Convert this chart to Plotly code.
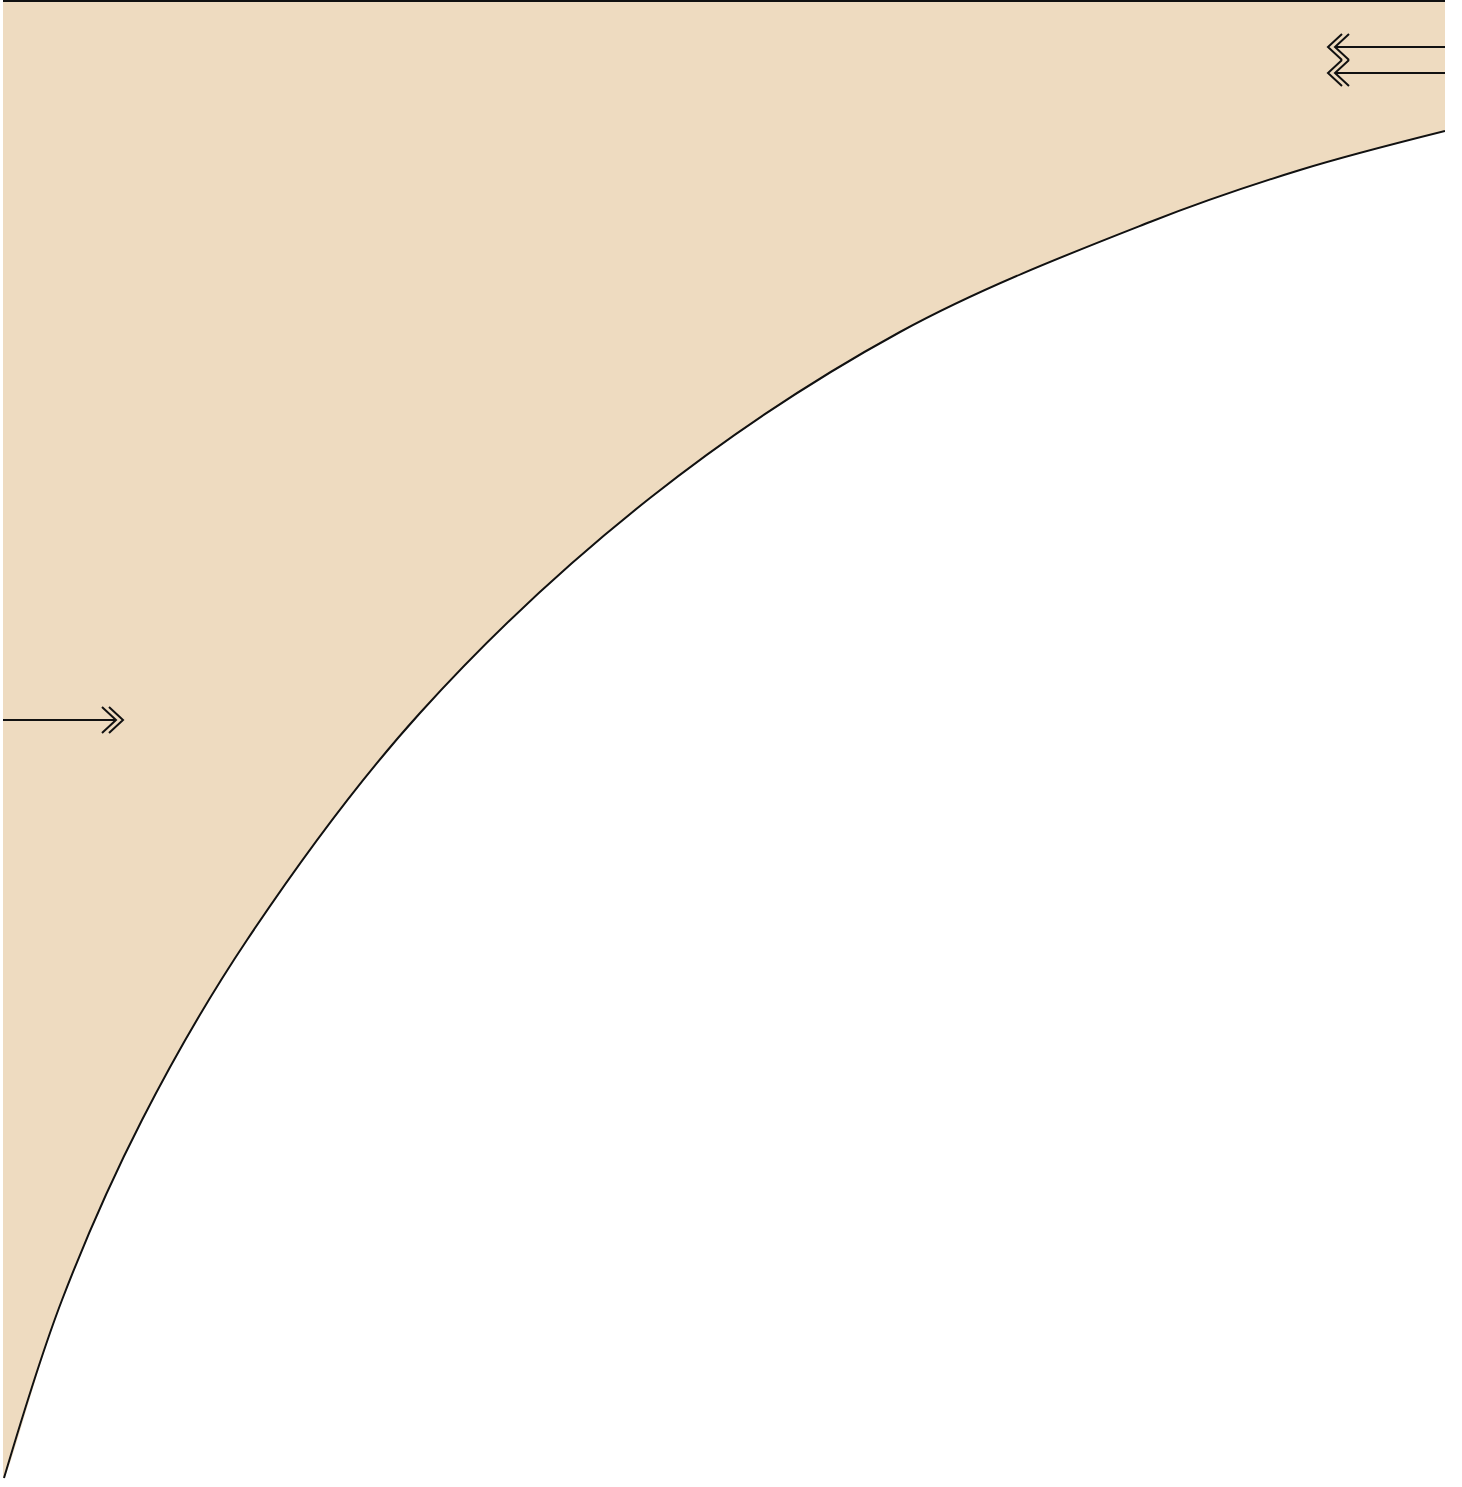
import plotly.graph_objects as go

# Boundary curve (data units)
curve_x = [1, 59, 139, 244, 417, 647, 897, 1147, 1297, 1442]
curve_y = [2, 180, 360, 540, 767, 982, 1148, 1258, 1310, 1349]

# Frame extents
x_min, x_max = 0, 1442
y_top = 1480
top_line_y = 1479

# Arrows: (y, x_start, x_end)
arrow_y = [760, 1433, 1407]
arrow_x_start = [0, 1442, 1442]
arrow_x_end = [120, 1325, 1325]

FILL = "#EEDBC0"
INK = "#111111"

fig = go.Figure()

# Tan region above the curve
poly_x = [x_min, x_max, x_max] + curve_x[::-1] + [x_min]
poly_y = [y_top, y_top, curve_y[-1]] + curve_y[::-1] + [curve_y[0]]
fig.add_trace(go.Scatter(x=poly_x, y=poly_y, fill="toself", fillcolor=FILL,
                         mode="lines", line=dict(width=0, shape="spline", smoothing=1.0),
                         hoverinfo="skip"))

# Curve
fig.add_trace(go.Scatter(x=curve_x, y=curve_y, mode="lines",
                         line=dict(color=INK, width=2, shape="spline", smoothing=1.0),
                         hoverinfo="skip"))

# Top border line
fig.add_trace(go.Scatter(x=[x_min, x_max], y=[top_line_y, top_line_y], mode="lines",
                         line=dict(color=INK, width=2), hoverinfo="skip"))

# Arrows with double-chevron heads
depth, half, gap = 14, 13, 7
for ay, xs, xe in zip(arrow_y, arrow_x_start, arrow_x_end):
    d = 1 if xe > xs else -1
    rear_tip = xe - d * gap
    fig.add_trace(go.Scatter(x=[xs, rear_tip], y=[ay, ay], mode="lines",
                             line=dict(color=INK, width=2), hoverinfo="skip"))
    for tip in (xe, rear_tip):
        fig.add_trace(go.Scatter(x=[tip - d * depth, tip, tip - d * depth],
                                 y=[ay + half, ay, ay - half], mode="lines",
                                 line=dict(color=INK, width=2), hoverinfo="skip"))

fig.update_layout(
    width=1462, height=1487,
    margin=dict(l=3, r=17, t=0, b=7),
    paper_bgcolor="white", plot_bgcolor="white",
    showlegend=False,
    hovermode=False,
    xaxis=dict(range=[x_min, x_max], visible=False, fixedrange=True),
    yaxis=dict(range=[0, y_top], visible=False, fixedrange=True),
)

fig.write_html("out.html",
               config={"displayModeBar": False, "staticPlot": True},
               post_script="document.body.style.margin='0px';document.body.style.overflow='hidden';")
